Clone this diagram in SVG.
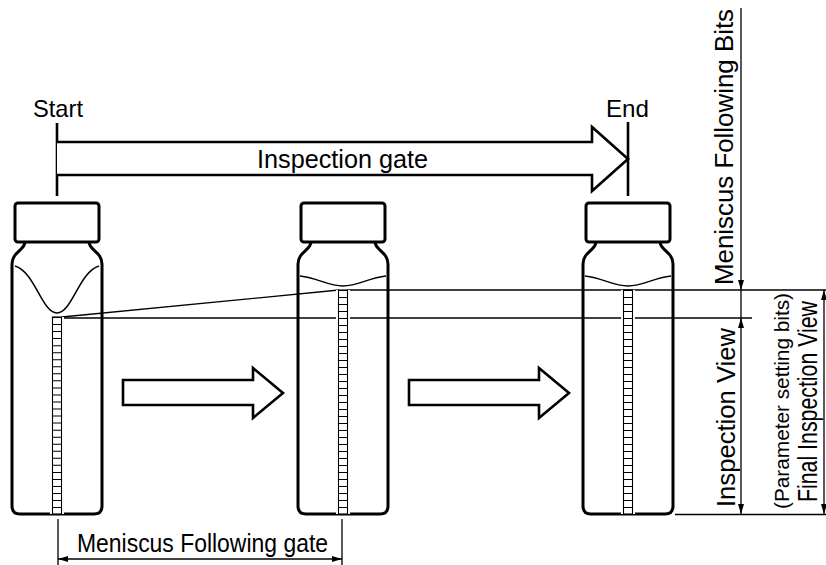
<svg xmlns="http://www.w3.org/2000/svg" width="826" height="565" viewBox="0 0 826 565">
  <style>
    .outline { fill: none; stroke: #000; stroke-width: 3; stroke-linejoin: round; }
    .cap { fill: #fff; stroke: #000; stroke-width: 3; stroke-linejoin: round; }
    .meniscus { fill: none; stroke: #000; stroke-width: 1.5; }
    .thin { fill: none; stroke: #000; stroke-width: 1.3; }
    .arrow { fill: #fff; stroke: #000; stroke-width: 2.6; stroke-linejoin: miter; }
    .label { font-family: "Liberation Sans", Arial, sans-serif; fill: #000; }
    .dim { fill: none; stroke: #000; stroke-width: 1.3; }
  </style>
  <defs>
    <marker id="tip" viewBox="0 0 10 6" refX="10" refY="3" markerWidth="10" markerHeight="6" markerUnits="userSpaceOnUse" orient="auto-start-reverse">
      <path d="M0 0 L10 3 L0 6 Z" fill="#000"/>
    </marker>
    <!-- vial shell: cap plus bottle body, centred on x = 0 -->
    <g id="vial-shell">
      <path class="outline" d="M-32 242 C-32 250 -45 252 -45 264 L-45 506 Q-45 514 -37 514 L37 514 Q45 514 45 506 L45 264 C45 252 32 250 32 242"/>
      <rect class="cap" x="-42" y="203" width="84" height="39" rx="3"/>
    </g>
  </defs>

  <!-- connectors: reference lines and dimension lines -->
  <g id="connectors">
    <path class="thin" d="M62 317 L339 290"/>
    <path class="thin" d="M62 318 H752"/>
    <path class="thin" d="M347 290 H826"/>
    <path class="thin" d="M675 514.5 H826"/>
    <path class="dim" d="M741 8 V290" marker-end="url(#tip)"/>
    <path class="dim" d="M741 290 V318"/>
    <path class="dim" d="M741 318 V514" marker-start="url(#tip)" marker-end="url(#tip)"/>
    <path class="dim" d="M824 290 V514" marker-start="url(#tip)" marker-end="url(#tip)"/>
    <path class="thin" d="M58 519 V565"/>
    <path class="thin" d="M342 519 V565"/>
    <path class="dim" d="M58 559 H342" marker-start="url(#tip)" marker-end="url(#tip)"/>
  </g>

  <!-- inspection gate arrow with start / end marks -->
  <g id="inspection-gate">
    <path class="thin" d="M57 123 V196" style="stroke-width:2.6"/>
    <path class="thin" d="M628 122 V196" style="stroke-width:2.6"/>
    <path class="arrow" d="M57 142 H592 V127 L628 159 L592 191 V175 H57"/>
    <text class="label" x="33" y="117" font-size="24" textLength="50" lengthAdjust="spacingAndGlyphs">Start</text>
    <text class="label" x="606" y="117" font-size="24" textLength="43" lengthAdjust="spacingAndGlyphs">End</text>
    <text class="label" x="257" y="168" font-size="25" textLength="171" lengthAdjust="spacingAndGlyphs">Inspection gate</text>
  </g>

  <!-- vial 1: deep meniscus -->
  <g id="vial-1" transform="translate(57,0)">
    <use href="#vial-shell"/>
    <path class="meniscus" d="M-42 266 C-22 272 -15 313 0 313 C15 313 22 272 42 266"/>
    <rect x="-7" y="317" width="14" height="197" fill="#fff"/>
    <rect x="-4.5" y="317" width="9" height="197" fill="#fff" stroke="#000" stroke-width="1.1"/>
    <line x1="0" y1="317" x2="0" y2="514" stroke="#000" stroke-width="9" stroke-dasharray="1 6.04"/>
  </g>

  <!-- vial 2: settled meniscus -->
  <g id="vial-2" transform="translate(343,0)">
    <use href="#vial-shell"/>
    <path class="meniscus" d="M-43 276 C-25 278 -15 286 0 286 C15 286 25 278 43 276"/>
    <rect x="-7" y="290" width="14" height="224" fill="#fff"/>
    <rect x="-4.5" y="290" width="9" height="224" fill="#fff" stroke="#000" stroke-width="1.1"/>
    <line x1="0" y1="290" x2="0" y2="514" stroke="#000" stroke-width="9" stroke-dasharray="1 6"/>
  </g>

  <!-- vial 3: settled meniscus -->
  <g id="vial-3" transform="translate(628,0)">
    <use href="#vial-shell"/>
    <path class="meniscus" d="M-43 276 C-25 278 -15 286 0 286 C15 286 25 278 43 276"/>
    <rect x="-7" y="290" width="14" height="224" fill="#fff"/>
    <rect x="-4.5" y="290" width="9" height="224" fill="#fff" stroke="#000" stroke-width="1.1"/>
    <line x1="0" y1="290" x2="0" y2="514" stroke="#000" stroke-width="9" stroke-dasharray="1 6"/>
  </g>

  <!-- transfer arrows between vials -->
  <g id="move-1">
    <path class="arrow" d="M123 380 H253 V368 L283 393 L253 418 V405 H123 Z"/>
  </g>
  <g id="move-2">
    <path class="arrow" d="M409 380 H539 V368 L569 393 L539 418 V405 H409 Z"/>
  </g>

  <!-- dimension labels -->
  <g id="labels">
    <text class="label" x="77" y="552" font-size="25" textLength="251" lengthAdjust="spacingAndGlyphs">Meniscus Following gate</text>
    <text class="label" transform="translate(733,147) rotate(-90)" text-anchor="middle" font-size="25" textLength="276" lengthAdjust="spacingAndGlyphs">Meniscus Following Bits</text>
    <text class="label" transform="translate(735,417.5) rotate(-90)" text-anchor="middle" font-size="25" textLength="179" lengthAdjust="spacingAndGlyphs">Inspection View</text>
    <text class="label" transform="translate(789,401) rotate(-90)" text-anchor="middle" font-size="20" textLength="216" lengthAdjust="spacingAndGlyphs">(Parameter setting bits)</text>
    <text class="label" transform="translate(817,401.5) rotate(-90)" text-anchor="middle" font-size="27" textLength="201" lengthAdjust="spacingAndGlyphs">Final Inspection View</text>
  </g>
</svg>
